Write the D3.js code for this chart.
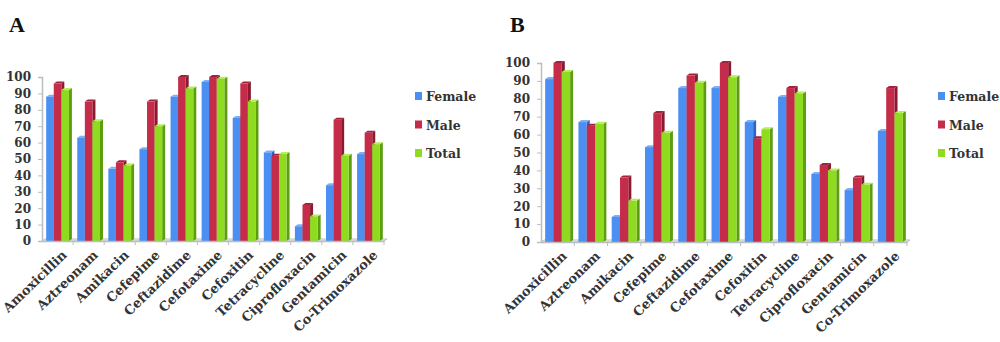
<!DOCTYPE html>
<html>
<head>
<meta charset="utf-8">
<script src="https://cdn.jsdelivr.net/npm/d3@7"></script>
<style>
  body { margin: 0; background: #fff; }
  svg { display: block; }
  text { font-family: "DejaVu Serif", serif; font-weight: bold; fill: #333; }
</style>
</head>
<body>
<div id="chart"></div>
<script>
"use strict";

var drugs = ["Amoxicillin", "Aztreonam", "Amikacin", "Cefepime", "Ceftazidime", "Cefotaxime",
             "Cefoxitin", "Tetracycline", "Ciprofloxacin", "Gentamicin", "Co-Trimoxazole"];
var groups = ["Female", "Male", "Total"];
var yTicks = [0, 10, 20, 30, 40, 50, 60, 70, 80, 90, 100];

// panel A
var femaleA = [88, 63, 44, 56, 88, 97, 75, 54, 9, 34, 53];
var maleA   = [96, 85, 48, 85, 100, 100, 96, 52, 22, 74, 66];
var totalA  = [92, 73, 46, 70, 93, 99, 85, 53, 15, 52, 59];

// panel B
var femaleB = [91, 67, 14, 53, 86, 86, 67, 81, 38, 29, 62];
var maleB   = [100, 65, 36, 72, 93, 100, 58, 86, 43, 36, 86];
var totalB  = [95, 66, 23, 61, 89, 92, 63, 83, 40, 32, 72];

var front = ["#4b8ff2", "#c52c4a", "#8fdb1f"];
var side  = ["#2c66c4", "#8a1a30", "#5d9e10"];
var top_  = ["#7fb0f7", "#a2223c", "#b4ee5a"];

var svg = d3.select("#chart").append("svg")
    .attr("width", 1000)
    .attr("height", 342);

function showChart(opts) {
    var series = [opts.female, opts.male, opts.total];
    var dx = 3, dy = 2;

    var x = d3.scaleBand()
        .domain(drugs)
        .range([opts.left, opts.right]);
    var inner = d3.scaleBand()
        .domain(groups)
        .range([0, x.bandwidth()])
        .paddingOuter(opts.pad)
        .paddingInner(0);
    var y = d3.scaleLinear()
        .domain([0, 100])
        .range([opts.bottom, opts.top]);

    var g = svg.append("g");
    var y0 = y(0);

    // floor of the 3D box
    g.append("path")
        .attr("d", "M" + opts.left + "," + y0 + "L" + (opts.left + dx) + "," + (y0 - dy) +
              "L" + (opts.right + dx) + "," + (y0 - dy) + "L" + opts.right + "," + y0 + "Z")
        .attr("fill", "#eef1f1")
        .attr("stroke", "#b9bfc0")
        .attr("stroke-width", 1);

    // y axis
    var ya = g.append("g")
        .attr("transform", "translate(" + opts.left + ",0)")
        .call(d3.axisLeft(y).tickValues(yTicks).tickSize(4).tickPadding(7));
    ya.select(".domain").attr("stroke", "#b9bfc0").attr("stroke-width", 1.5);
    ya.selectAll(".tick line").attr("stroke", "#b9bfc0");
    ya.selectAll(".tick text")
        .attr("font-family", "DejaVu Serif")
        .attr("font-weight", "bold")
        .attr("font-size", 12)
        .attr("fill", "#333");

    // bars with side and top faces
    drugs.forEach(function(d, i) {
        groups.forEach(function(s, k) {
            var v = series[k][i];
            var bx = x(d) + inner(s);
            var bw = inner.bandwidth();
            var by = y(v);
            var bar = g.append("g");
            bar.append("path")
                .attr("d", "M" + (bx + bw) + "," + by + "L" + (bx + bw + dx) + "," + (by - dy) +
                      "L" + (bx + bw + dx) + "," + (y0 - dy) + "L" + (bx + bw) + "," + y0 + "Z")
                .attr("fill", side[k]);
            bar.append("path")
                .attr("d", "M" + bx + "," + by + "L" + (bx + dx) + "," + (by - dy) +
                      "L" + (bx + bw + dx) + "," + (by - dy) + "L" + (bx + bw) + "," + by + "Z")
                .attr("fill", top_[k]);
            bar.append("rect")
                .attr("x", bx)
                .attr("y", by)
                .attr("width", bw)
                .attr("height", y0 - by)
                .attr("fill", front[k]);
        });
    });

    // x axis: boundary ticks between categories
    var xa = g.append("g")
        .attr("transform", "translate(0," + y0 + ")")
        .call(d3.axisBottom(x).tickSize(0).tickPadding(0));
    xa.select(".domain").attr("stroke", "#b9bfc0").attr("stroke-width", 1.5);
    xa.selectAll(".tick text")
        .attr("font-family", "DejaVu Serif")
        .attr("font-weight", "bold")
        .attr("font-size", 13)
        .attr("fill", "#383838")
        .attr("text-anchor", "end")
        .attr("dy", 0)
        .attr("transform", "translate(10,15) rotate(-44)");
    xa.selectAll(".bound")
        .data(drugs.slice(1).concat([null]))
        .enter().append("line")
        .attr("class", "bound")
        .attr("x1", function(d) { return d ? x(d) : opts.right; })
        .attr("x2", function(d) { return d ? x(d) : opts.right; })
        .attr("y1", 0)
        .attr("y2", 4)
        .attr("stroke", "#b9bfc0");

    // panel letter
    svg.append("text")
        .attr("x", opts.letterX)
        .attr("y", 32)
        .attr("font-size", 22)
        .style("font-family", "Liberation Serif")
        .style("fill", "#111")
        .text(opts.letter);

    // legend
    var lg = svg.append("g");
    groups.forEach(function(s, k) {
        var ly = opts.legendY + k * 28.5;
        lg.append("rect")
            .attr("x", opts.legendX)
            .attr("y", ly - 4)
            .attr("width", 7)
            .attr("height", 8)
            .attr("fill", front[k]);
        lg.append("text")
            .attr("x", opts.legendX + 11)
            .attr("y", ly + 5)
            .attr("font-size", 12.5)
            .text(s);
    });
}

showChart({ female: femaleA, male: maleA, total: totalA,
    left: 42, right: 384, top: 77, bottom: 241, pad: 0.55,
    letter: "A", letterX: 9, legendX: 415, legendY: 96 });

showChart({ female: femaleB, male: maleB, total: totalB,
    left: 541, right: 907, top: 63, bottom: 242, pad: 0.5,
    letter: "B", letterX: 510, legendX: 938, legendY: 96 });
</script>
</body>
</html>
